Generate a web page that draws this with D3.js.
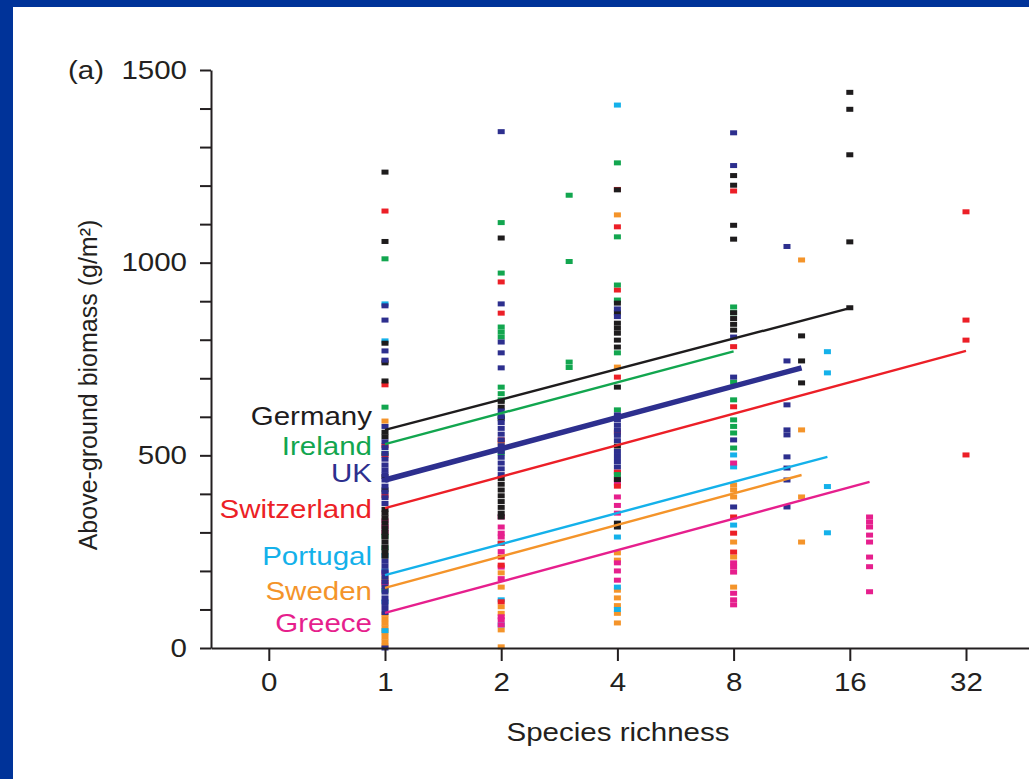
<!DOCTYPE html>
<html>
<head>
<meta charset="utf-8">
<script src="https://cdn.jsdelivr.net/npm/d3@7"></script>
<style>
  html, body { margin: 0; padding: 0; background: #fff; }
  svg { display: block; }
</style>
</head>
<body>
<svg id="chart" width="1029" height="779"></svg>
<script>
// ---- data ----
const countries = ["Germany", "Ireland", "UK", "Switzerland", "Portugal", "Sweden", "Greece"];
const countryColors = ["#1e1c1d", "#12a64f", "#2d2f8e", "#ec1f27", "#14b1ea", "#f4942a", "#e61f8d"];

const xTickValues = [0, 1, 2, 4, 8, 16, 32];
const yTickValues = [0, 100, 200, 300, 400, 500, 600, 700, 800, 900, 1000, 1100, 1200, 1300, 1400, 1500];
const yLabelValues = [0, 500, 1000, 1500];

// fitted lines: biomass at richness 1, and at the highest richness of each site
const fitStart = [566, 529, 436, 363, 189, 156, 91];
const fitEndRichness = [16, 8, 12, 32, 14, 12, 18];
const fitEnd = [882, 770, 727, 771, 496, 449, 431];

// plot biomass by species richness, one object per site
const germanyPlots = {
    1: [1235, 1055, 791, 740, 693, 560, 548, 445, 410, 360, 350, 338, 325, 312, 300, 288, 275, 262, 250, 238],
    2: [1064, 640, 625, 595, 440, 425, 410, 395, 380, 365, 350, 340],
    4: [1189, 895, 870, 843, 830, 817, 799, 781, 677, 524, 437, 324, 314],
    8: [1226, 1201, 1097, 1061, 870, 855, 840, 825],
    12: [810, 745, 688],
    16: [1442, 1398, 1280, 1054, 883]
};
const irelandPlots = {
    1: [1010, 625, 505, 290, 260, 150],
    2: [1104, 973, 833, 820, 807, 677, 660, 644, 600, 506],
    3: [1175, 1003, 742, 728],
    4: [1259, 1067, 942, 903, 766, 618, 450],
    8: [885, 870, 690, 644, 592, 575, 558, 519]
};
const ukPlots = {
    1: [888, 851, 771, 747, 575, 535, 520, 505, 490, 475, 462, 450, 436, 420, 405, 390, 375,
        225, 212, 198, 185, 172, 158, 145, 130, 118, 105, 92, 0],
    2: [1340, 893, 794, 766, 727, 615, 600, 585, 570, 555, 540, 525, 510, 495, 480, 465, 450],
    4: [880, 860, 605, 592, 578, 565, 552, 538, 510, 497, 484, 470],
    8: [1337, 1252, 807, 703, 540, 366],
    11: [1042, 745, 631, 566, 553, 496, 467, 436, 366]
};
const switzerlandPlots = {
    1: [1134, 683, 525, 500, 395],
    2: [950, 869, 540, 272, 236, 215, 120],
    4: [1190, 1093, 929, 703, 560, 457, 420],
    8: [1186, 782, 626, 340, 298, 249],
    32: [1132, 851, 799, 501]
};
const portugalPlots = {
    1: [893, 797, 240, 200, 120, 45],
    2: [272, 125, 60],
    4: [1409, 288, 158, 100],
    8: [501, 470, 319],
    14: [769, 714, 419, 299]
};
const swedenPlots = {
    1: [589, 745, 180, 165, 88, 76, 64, 52, 40, 28, 16, 5],
    2: [532, 195, 158, 107, 90, 47, 3],
    4: [1124, 729, 247, 228, 150, 130, 110, 90, 65],
    8: [423, 410, 392, 275, 236, 158],
    12: [1007, 566, 392, 275]
};
const greecePlots = {
    1: [330, 315, 300, 195, 170],
    2: [340, 314, 298, 288, 250, 210, 180, 81, 73, 60],
    4: [455, 440, 428, 392, 370, 350, 221, 200, 176],
    8: [480, 221, 210, 197, 142, 125, 112],
    18: [340, 327, 314, 293, 275, 236, 211, 146]
};
const sitePlots = [germanyPlots, irelandPlots, ukPlots, switzerlandPlots, portugalPlots, swedenPlots, greecePlots];

// ---- layout ----
const W = 1029, H = 779;
const ink = "#231f20";
const fontFamily = "'Liberation Sans', Arial, Helvetica, sans-serif";
const fontSize = 25;
const stretch = 1.18; // the figure is widened horizontally

const svg = d3.select("#chart");

// blue slide frame (left and top only)
svg.append("rect").attr("width", W).attr("height", H).attr("fill", "#003399");
svg.append("rect").attr("x", 13).attr("y", 7).attr("width", W - 13).attr("height", H - 7).attr("fill", "#fff");

// richness axis is log2, with "0" one step left of 1
const x = d3.scaleLog().base(2).domain([1, 32]).range([385, 966]);
const y = d3.scaleLinear().domain([0, 1500]).range([648, 70]);
const zeroAt = 0.5; // where the "0" tick sits on the log scale
const axisLeftX = 211;

function widen(sel) {
    sel.each(function () {
        const t = d3.select(this);
        const tx = +t.attr("x") || 0, ty = +t.attr("y") || 0;
        t.attr("transform", `translate(${tx},${ty}) scale(${stretch},1) translate(${-tx},${-ty})`);
    });
}

// points
const pointsG = svg.append("g");
const drawOrder = [5, 4, 6, 3, 1, 0, 2];
drawOrder.forEach(i => {
    const pts = [];
    Object.keys(sitePlots[i]).forEach(n => {
        sitePlots[i][n].forEach(v => pts.push({ n: +n, v: v }));
    });
    pointsG.selectAll(null)
        .data(pts)
        .enter()
        .append("rect")
        .attr("x", d => x(d.n) - 3.5)
        .attr("y", d => y(d.v) - 2.5)
        .attr("width", 7)
        .attr("height", 5)
        .attr("fill", countryColors[i]);
});

// fitted lines
const linesG = svg.append("g");
countries.forEach((c, i) => {
    linesG.append("line")
        .attr("x1", x(1))
        .attr("y1", y(fitStart[i]))
        .attr("x2", x(fitEndRichness[i]))
        .attr("y2", y(fitEnd[i]))
        .attr("stroke", countryColors[i])
        .attr("stroke-width", c === "UK" ? 5.5 : 2.4);
});

// x axis
const xAxisScale = x.copy().domain([x.invert(axisLeftX), x.invert(W)]).range([axisLeftX, W]);
const xAxis = svg.append("g")
    .attr("transform", `translate(0,${y(0)})`)
    .call(d3.axisBottom(xAxisScale)
        .tickValues(xTickValues.map(v => v === 0 ? zeroAt : v))
        .tickFormat(v => v === zeroAt ? "0" : String(v))
        .tickSize(13)
        .tickSizeOuter(0)
        .tickPadding(12));

// y axis
const yAxis = svg.append("g")
    .attr("transform", `translate(${axisLeftX},0)`)
    .call(d3.axisLeft(y)
        .tickValues(yTickValues)
        .tickFormat(v => yLabelValues.includes(v) ? String(v) : "")
        .tickSize(11)
        .tickSizeOuter(0)
        .tickPadding(13));

[xAxis, yAxis].forEach(a => {
    a.select(".domain").attr("stroke", ink).attr("stroke-width", 2);
    a.selectAll(".tick line").attr("stroke", ink).attr("stroke-width", 2);
    a.selectAll(".tick text")
        .attr("fill", ink)
        .style("font-family", fontFamily)
        .style("font-size", fontSize + "px");
    widen(a.selectAll(".tick text"));
});

// country labels
const labelBaselines = [425, 455, 482, 518, 565, 600, 632];
countries.forEach((c, i) => {
    svg.append("text")
        .attr("x", 372)
        .attr("y", labelBaselines[i])
        .attr("text-anchor", "end")
        .attr("fill", countryColors[i])
        .style("font-family", fontFamily)
        .style("font-size", fontSize + "px")
        .text(c)
        .call(widen);
});

// titles
svg.append("text")
    .attr("x", 68)
    .attr("y", 79)
    .attr("fill", ink)
    .style("font-family", fontFamily)
    .style("font-size", fontSize + "px")
    .text("(a)")
    .call(widen);

svg.append("text")
    .attr("x", 618)
    .attr("y", 741)
    .attr("text-anchor", "middle")
    .attr("fill", ink)
    .style("font-family", fontFamily)
    .style("font-size", fontSize + "px")
    .text("Species richness")
    .call(widen);

svg.append("text")
    .attr("transform", "translate(97,385) rotate(-90)")
    .attr("text-anchor", "middle")
    .attr("fill", ink)
    .style("font-family", fontFamily)
    .style("font-size", fontSize + "px")
    .text("Above-ground biomass (g/m²)");
</script>
</body>
</html>
